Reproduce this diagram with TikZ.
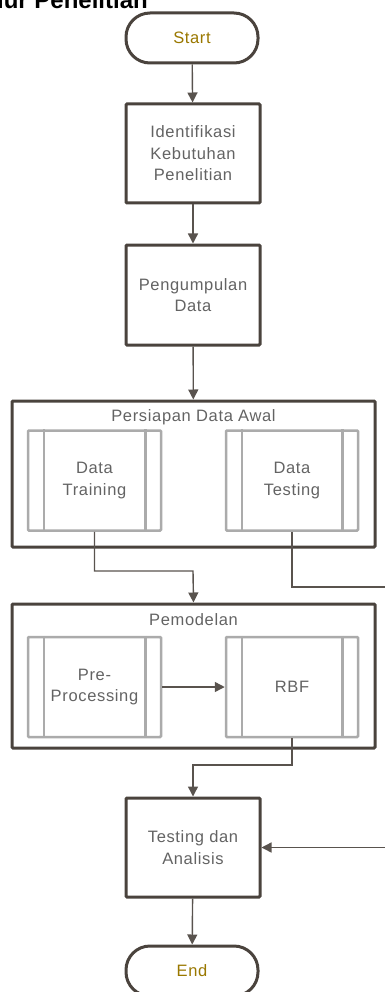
\documentclass[tikz,border=0pt]{standalone}
\usepackage{fontspec}
\setmainfont{Liberation Sans}
\newfontfamily\boxfont[LetterSpace=4]{Liberation Sans}
\usetikzlibrary{arrows.meta,calc}
\definecolor{boxline}{HTML}{4A433D}
\definecolor{conline}{HTML}{59534E}
\definecolor{txtgray}{HTML}{636363}
\definecolor{termtxt}{HTML}{9A7800}
\definecolor{subline}{HTML}{ABABAB}
\begin{document}
\begin{tikzpicture}[x=1pt,y=-1pt,
  term/.style={draw=boxline,line width=3pt,rounded corners=24pt,fill=white,
    minimum width=132pt,minimum height=50pt,inner sep=0pt,
    font=\boxfont\fontsize{16.5}{21}\selectfont,text=termtxt},
  procbox/.style={draw=boxline,line width=3pt,rounded corners=1pt,fill=white,
    minimum width=134pt,minimum height=99pt,inner sep=0pt,align=center,
    font=\boxfont\fontsize{16.5}{21.5}\selectfont,text=txtgray},
  contbox/.style={draw=boxline,line width=3pt,rounded corners=1pt,
    minimum width=363pt,inner sep=0pt},
  subbox/.style={draw=subline,line width=2.5pt,rounded corners=1pt,
    minimum width=133pt,minimum height=100pt,inner sep=0pt,align=center,
    font=\boxfont\fontsize{16.5}{21.5}\selectfont,text=txtgray},
  conttitle/.style={font=\boxfont\fontsize{16.5}{20}\selectfont,text=txtgray,inner sep=0pt},
  conn/.style={draw=conline,line width=1.4pt},
  arr/.style={conn,-{Triangle[length=10pt,width=10pt]}}]
\useasboundingbox (0,0) rectangle (385,992);

\node[anchor=base east,inner sep=0pt,font=\bfseries\fontsize{24}{28}\selectfont] (title) at (148,9) {Alur Penelitian};

\node[term] (start) at (192,38) {Start};
\node[procbox] (ident) at (193,153.5) {Identifikasi\\Kebutuhan\\Penelitian};
\node[procbox,minimum height=100pt] (peng) at (193,295) {Pengumpulan\\Data};

\node[contbox,minimum height=146pt] (persiapan) at (193.5,474) {};
\node[conttitle] (ptitle) at (193.5,417) {Persiapan Data Awal};
\node[subbox] (training) at (94.5,480.5) {Data\\Training};
\draw[subline,line width=2.5pt] ([xshift=17pt]training.north west) -- ([xshift=17pt]training.south west)
  ([xshift=-17pt]training.north east) -- ([xshift=-17pt]training.south east);
\node[subbox,minimum width=132pt] (testing) at (292,480.5) {Data\\Testing};
\draw[subline,line width=2.5pt] ([xshift=17pt]testing.north west) -- ([xshift=17pt]testing.south west)
  ([xshift=-17pt]testing.north east) -- ([xshift=-17pt]testing.south east);

\node[contbox,minimum height=144pt] (pemodelan) at (193.5,676) {};
\node[conttitle] (mtitle) at (193.5,620) {Pemodelan};
\node[subbox] (prep) at (94.5,687) {Pre-\\Processing};
\draw[subline,line width=2.5pt] ([xshift=17pt]prep.north west) -- ([xshift=17pt]prep.south west)
  ([xshift=-17pt]prep.north east) -- ([xshift=-17pt]prep.south east);
\node[subbox,minimum width=132pt] (rbf) at (292,687) {RBF};
\draw[subline,line width=2.5pt] ([xshift=17pt]rbf.north west) -- ([xshift=17pt]rbf.south west)
  ([xshift=-17pt]rbf.north east) -- ([xshift=-17pt]rbf.south east);

\node[procbox] (testan) at (193,847.5) {Testing dan\\Analisis};
\node[term] (end) at (192,971) {End};

\coordinate (k1) at (193,571);
\coordinate (k2) at (392,587);
\coordinate (k3) at (193,765);

\draw[arr] (start) -- (ident);
\draw[arr] (ident) -- (peng);
\draw[arr] (peng) -- (persiapan);
\draw[arr] (training.south) |- (k1) -- (pemodelan.north);
\draw[arr] (testing.south) |- (k2) |- (testan.east);
\draw[arr] (prep) -- (rbf);
\draw[arr] (rbf.south) |- (k3) -- (testan.north);
\draw[arr] (testan) -- (end);
\end{tikzpicture}
\end{document}
